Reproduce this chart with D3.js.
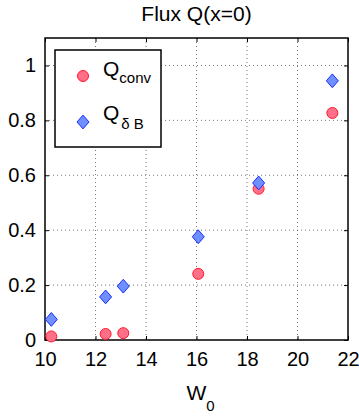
<!DOCTYPE html>
<html>
<head>
<meta charset="utf-8">
<script src="https://cdn.jsdelivr.net/npm/d3@7"></script>
<style>
  body { margin: 0; background: #fff; }
  text { font-family: "Liberation Sans", Arial, sans-serif; fill: #000; }
</style>
</head>
<body>
<div id="chart"></div>
<script>
// data
var w0 = [10.25, 12.4, 13.1, 16.07, 18.46, 21.38];
var qConv = [0.013, 0.022, 0.025, 0.241, 0.551, 0.827];
var qDeltaB = [0.075, 0.157, 0.196, 0.376, 0.572, 0.944];
var xTicks = [10, 12, 14, 16, 18, 20, 22];
var yTicks = [0, 0.2, 0.4, 0.6, 0.8, 1];

var svgWidth = 359;
var svgHeight = 417;

var margin = { top: 38, right: 11, bottom: 77, left: 45 };
var width = svgWidth - margin.left - margin.right;
var height = svgHeight - margin.top - margin.bottom;

var svg = d3.select("#chart")
  .append("svg")
  .attr("width", svgWidth)
  .attr("height", svgHeight);

var chartGroup = svg.append("g")
  .attr("transform", `translate(${margin.left}, ${margin.top})`);

var xScale = d3.scaleLinear().domain([10, 22]).range([0, width]);
var yScale = d3.scaleLinear().domain([0, 1.1]).range([height, 0]);

// grid
chartGroup.append("g").selectAll("line")
  .data(xTicks.slice(1, -1))
  .enter().append("line")
  .attr("x1", d => xScale(d)).attr("x2", d => xScale(d))
  .attr("y1", 0).attr("y2", height)
  .attr("stroke", "#555").attr("stroke-width", 0.8)
  .attr("stroke-dasharray", "1,3");

chartGroup.append("g").selectAll("line")
  .data(yTicks.slice(1))
  .enter().append("line")
  .attr("x1", 0).attr("x2", width)
  .attr("y1", d => yScale(d)).attr("y2", d => yScale(d))
  .attr("stroke", "#555").attr("stroke-width", 0.8)
  .attr("stroke-dasharray", "1,3");

// axes, ticks inside
var bottomAxis = d3.axisBottom(xScale).tickValues(xTicks).tickSizeInner(-4).tickSizeOuter(0).tickPadding(12);
var leftAxis = d3.axisLeft(yScale).tickValues(yTicks).tickSizeInner(-4).tickSizeOuter(0).tickPadding(9)
  .tickFormat(d3.format("~g"));
var topAxis = d3.axisTop(xScale).tickValues(xTicks).tickSizeInner(-4).tickSizeOuter(0).tickFormat("");
var rightAxis = d3.axisRight(yScale).tickValues(yTicks).tickSizeInner(-4).tickSizeOuter(0).tickFormat("");

chartGroup.append("g").attr("transform", `translate(0, ${height})`).call(bottomAxis);
chartGroup.append("g").call(leftAxis);
chartGroup.append("g").call(topAxis);
chartGroup.append("g").attr("transform", `translate(${width}, 0)`).call(rightAxis);

chartGroup.selectAll(".tick text")
  .style("font-size", "20px")
  .style("font-family", "Liberation Sans, Arial, sans-serif");
chartGroup.selectAll(".domain").remove();
chartGroup.selectAll(".tick line").attr("stroke", "#000");

chartGroup.append("rect")
  .attr("width", width).attr("height", height)
  .attr("fill", "none").attr("stroke", "#000").attr("stroke-width", 1.5);

// matlab style diamond marker
var matDiamond = {
  draw: function(context, size) {
    var h = Math.sqrt(size) / 2;
    context.moveTo(0, -h * 1.15);
    context.lineTo(h, 0);
    context.lineTo(0, h * 1.15);
    context.lineTo(-h, 0);
    context.closePath();
  }
};
var diamond = d3.symbol().type(matDiamond).size(144);

chartGroup.selectAll(".conv")
  .data(w0)
  .enter().append("circle")
  .attr("class", "conv")
  .attr("cx", d => xScale(d))
  .attr("cy", (d, i) => yScale(qConv[i]))
  .attr("r", 5.5)
  .attr("fill", "#ff6f87")
  .attr("stroke", "#ff1a2e")
  .attr("stroke-width", 1);

chartGroup.selectAll(".db")
  .data(w0)
  .enter().append("path")
  .attr("class", "db")
  .attr("d", diamond)
  .attr("transform", (d, i) => `translate(${xScale(d)}, ${yScale(qDeltaB[i])})`)
  .attr("fill", "#6f8fff")
  .attr("stroke", "#1a2eff")
  .attr("stroke-width", 1);

// legend
var legend = chartGroup.append("g").attr("transform", "translate(10, 12)");
legend.append("rect")
  .attr("width", 106).attr("height", 97)
  .attr("fill", "#fff").attr("stroke", "#000").attr("stroke-width", 1.5);

legend.append("circle")
  .attr("cx", 28).attr("cy", 26).attr("r", 5.5)
  .attr("fill", "#ff6f87").attr("stroke", "#ff1a2e");
legend.append("path")
  .attr("d", diamond)
  .attr("transform", "translate(28, 72)")
  .attr("fill", "#6f8fff").attr("stroke", "#1a2eff");

var t1 = legend.append("text").attr("x", 48).attr("y", 26).style("font-size", "21px");
t1.append("tspan").text("Q");
t1.append("tspan").attr("dy", 7).style("font-size", "15px").text("conv");

var t2 = legend.append("text").attr("x", 48).attr("y", 70).style("font-size", "21px");
t2.append("tspan").text("Q");
t2.append("tspan").attr("dy", 9).attr("dx", 2).style("font-size", "15px").text("δ B");

// title and x label
svg.append("text")
  .attr("x", margin.left + width / 2)
  .attr("y", 21)
  .attr("text-anchor", "middle")
  .style("font-size", "21px")
  .text("Flux Q(x=0)");

var xl = svg.append("text")
  .attr("x", margin.left + width / 2 + 4)
  .attr("y", 400)
  .attr("text-anchor", "middle")
  .style("font-size", "21px");
xl.append("tspan").text("W");
xl.append("tspan").attr("dy", 11).style("font-size", "15px").text("0");
</script>
</body>
</html>
